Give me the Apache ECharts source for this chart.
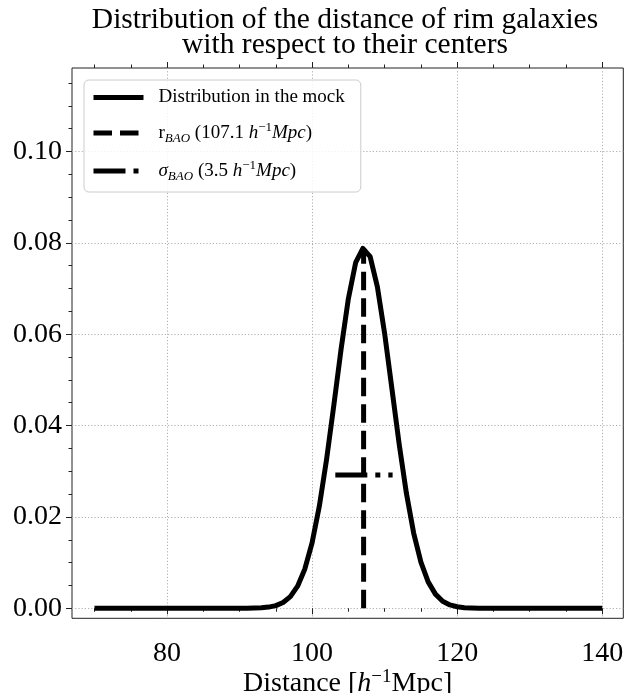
<!DOCTYPE html>
<html>
<head>
<meta charset="utf-8">
<script src="https://cdn.jsdelivr.net/npm/echarts@6/dist/echarts.min.js"></script>
<style>html,body{margin:0;padding:0;background:#fff}#c{width:625px;height:693px}</style>
</head>
<body>
<div id="c"></div>
<script>
// ---- data ----
const distX = [70,71,72,73,74,75,76,77,78,79,80,81,82,83,84,85,86,87,88,89,90,91,92,93,94,95,96,97,98,99,100,101,102,103,104,105,106,107,108,109,110,111,112,113,114,115,116,117,118,119,120,121,122,123,124,125,126,127,128,129,130,131,132,133,134,135,136,137,138,139,140];
const distY = [0,0,0,0,0,0,0,0,0,0,0,0,0,0,0,0,0,0,0,0,0,0,0.00004,0.0001,0.00025,0.00057,0.00125,0.00254,0.00483,0.00861,0.01435,0.02237,0.03263,0.04451,0.05679,0.06779,0.07568,0.0788,0.0770,0.07038,0.06016,0.0481,0.03597,0.02517,0.01647,0.01008,0.00578,0.00309,0.00155,0.00073,0.00032,0.00013,0.00005,0,0,0,0,0,0,0,0,0,0,0,0,0,0,0,0,0,0];
const rBaoX = [107.1, 107.1];
const rBaoY = [0, 0.0789];
const sigmaX = [103.2, 111.1];
const sigmaY = [0.0292, 0.0292];
const xTicks = [80, 100, 120, 140];
const xMinorTicks = [70, 75, 85, 90, 95, 105, 110, 115, 125, 130, 135];
const yTicks = [0, 0.02, 0.04, 0.06, 0.08, 0.10];
const yMinorTicks = [0.005, 0.01, 0.015, 0.025, 0.03, 0.035, 0.045, 0.05, 0.055, 0.065, 0.07, 0.075, 0.085, 0.09, 0.095, 0.105, 0.11, 0.115];
const seriesNames = ['Distribution in the mock', 'rBAO', 'sigmaBAO'];
const legendLabels = {
  'Distribution in the mock': '{t|Distribution in the mock}',
  'rBAO': '{t|r}{sub|BAO}{t| (107.1 }{i|h}{sup|−1}{i|Mpc}{t|)}',
  'sigmaBAO': '{i|σ}{sub|BAO}{t| (3.5 }{i|h}{sup|−1}{i|Mpc}{t|)}'
};
const titleText = 'Distribution of the distance of rim galaxies\nwith respect to their centers';

const zip = (a, b) => a.map((v, i) => [v, b[i]]);
const FONT = 'Liberation Serif';
const XMIN = 66.9, XMAX = 142.9, YMIN = -0.0022, YMAX = 0.1183;
const tickColor = '#222';

function xAxisDef(pos, values, len, labels) {
  return {
    type: 'value', position: pos, min: XMIN, max: XMAX,
    axisLine: { show: false },
    axisTick: { show: true, customValues: values, length: len, inside: false, lineStyle: { color: tickColor, width: 1 } },
    axisLabel: labels ? { show: true, customValues: values, fontFamily: FONT, fontSize: 28, color: '#000', margin: 21 } : { show: false },
    splitLine: { show: false }
  };
}
function yAxisDef(pos, values, len, labels) {
  return {
    type: 'value', position: pos, min: YMIN, max: YMAX,
    axisLine: { show: false },
    axisTick: { show: true, customValues: values, length: len, inside: false, lineStyle: { color: tickColor, width: 1 } },
    axisLabel: labels ? { show: true, customValues: values, fontFamily: FONT, fontSize: 28, color: '#000', margin: 10, formatter: v => v.toFixed(2) } : { show: false },
    splitLine: { show: false }
  };
}

const xMain = xAxisDef('bottom', xTicks, 6, true);
xMain.splitLine = { show: true, lineStyle: { type: [1.2, 2], color: '#b0b0b0', width: 1 } };
xMain.name = '{n|Distance [}{i|h}{sup|−1}{n|Mpc]}';
xMain.nameLocation = 'middle';
xMain.nameGap = 49;
xMain.nameMoveOverlap = false;
xMain.nameTextStyle = {
  fontFamily: FONT, color: '#000',
  rich: {
    n: { fontFamily: FONT, fontSize: 28, lineHeight: 32, color: '#000' },
    i: { fontFamily: FONT, fontSize: 28, lineHeight: 32, fontStyle: 'italic', color: '#000' },
    sup: { fontFamily: FONT, fontSize: 19, lineHeight: 18, verticalAlign: 'top', color: '#000' }
  }
};
const yMain = yAxisDef('left', yTicks, 6, true);
yMain.splitLine = { show: true, lineStyle: { type: [1.2, 2], color: '#b0b0b0', width: 1 } };

const option = {
  animation: false,
  backgroundColor: '#fff',
  title: {
    text: titleText, left: 340, top: 3, textAlign: 'center',
    textStyle: { fontFamily: FONT, fontSize: 29.5, fontWeight: 'normal', color: '#000', lineHeight: 25 }
  },
  grid: { left: 72, right: 1.7, top: 68, bottom: 74.7, containLabel: false, outerBoundsMode: 'none',
    show: true, borderColor: tickColor, borderWidth: 1, backgroundColor: 'transparent' },
  xAxis: [
    xMain,
    xAxisDef('bottom', xMinorTicks, 3.5, false),
    xAxisDef('top', xTicks, 6, false),
    xAxisDef('top', xMinorTicks, 3.5, false)
  ],
  yAxis: [
    yMain,
    yAxisDef('left', yMinorTicks, 3.5, false)
  ],
  legend: {
    data: seriesNames, orient: 'vertical', left: 84, top: 80,
    itemWidth: 50, itemHeight: 20, itemGap: 14,
    padding: [8, 16, 9, 7],
    backgroundColor: 'rgba(255,255,255,0.85)', borderColor: '#cccccc', borderWidth: 1, borderRadius: 5,
    itemStyle: { opacity: 0 },
    lineStyle: { width: 5, type: 'inherit', color: '#000' },
    formatter: n => legendLabels[n],
    textStyle: {
      fontFamily: FONT, fontSize: 19, color: '#000', padding: [0, 0, 0, 10],
      rich: {
        t: { fontFamily: FONT, fontSize: 19, lineHeight: 24, color: '#000' },
        i: { fontFamily: FONT, fontSize: 19, lineHeight: 24, fontStyle: 'italic', color: '#000' },
        sub: { fontFamily: FONT, fontSize: 13, lineHeight: 14, fontStyle: 'italic', verticalAlign: 'bottom', color: '#000' },
        sup: { fontFamily: FONT, fontSize: 13, lineHeight: 14, verticalAlign: 'top', color: '#000' }
      }
    }
  },
  series: [
    { name: seriesNames[0], type: 'line', data: zip(distX, distY), symbol: 'none', xAxisIndex: 0, yAxisIndex: 0,
      lineStyle: { color: '#000', width: 5, cap: 'butt', join: 'round' }, itemStyle: { color: '#000' }, z: 3 },
    { name: seriesNames[1], type: 'line', data: zip(rBaoX, rBaoY), symbol: 'none', xAxisIndex: 0, yAxisIndex: 0,
      lineStyle: { color: '#000', width: 5, type: [18.5, 8], cap: 'butt' }, itemStyle: { color: '#000' }, z: 3 },
    { name: seriesNames[2], type: 'line', data: zip(sigmaX, sigmaY), symbol: 'none', xAxisIndex: 0, yAxisIndex: 0,
      lineStyle: { color: '#000', width: 5, type: [32, 8, 5, 8], cap: 'butt' }, itemStyle: { color: '#000' }, z: 3 }
  ]
};
const chart = echarts.init(document.getElementById('c'), null, { renderer: 'canvas' });
chart.setOption(option);
</script>
</body>
</html>
